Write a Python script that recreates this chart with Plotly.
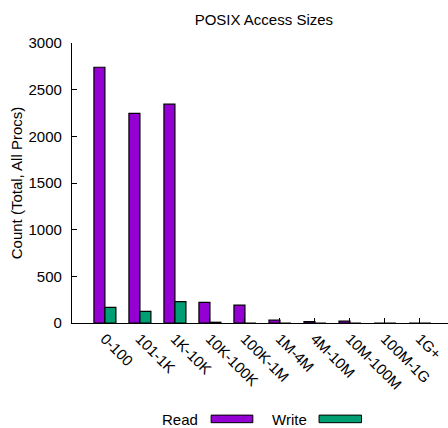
import plotly.graph_objects as go

# Access-size buckets and total counts across all processes
categories = ["0-100", "101-1K", "1K-10K", "10K-100K", "100K-1M",
              "1M-4M", "4M-10M", "10M-100M", "100M-1G", "1G+"]
read_counts = [2740, 2245, 2345, 220, 192, 30, 15, 20, 0, 0]
write_counts = [167, 124, 228, 8, 0, 0, 0, 0, 0, 0]

READ_COLOR = "#9400D3"
WRITE_COLOR = "#009E73"
FONT = "Liberation Sans, Arial, sans-serif"
FS = 15

idx = list(range(len(categories)))
bar_w = 0.314

fig = go.Figure()
fig.add_trace(go.Bar(
    x=[i - bar_w / 2 for i in idx], y=read_counts, width=bar_w, name="Read",
    marker=dict(color=READ_COLOR, line=dict(color="black", width=1.2)),
))
fig.add_trace(go.Bar(
    x=[i + bar_w / 2 for i in idx], y=write_counts, width=bar_w, name="Write",
    marker=dict(color=WRITE_COLOR, line=dict(color="black", width=1.2)),
))

# Legend drawn beneath the plot: label followed by a wide swatch
legend_items = [("Read", READ_COLOR, 0.340, 0.370, 0.481),
                ("Write", WRITE_COLOR, 0.631, 0.657, 0.770)]
for label, color, x_text_end, sw0, sw1 in legend_items:
    fig.add_annotation(xref="paper", yref="paper", x=x_text_end, y=-0.343,
                       text=label, showarrow=False, xanchor="right", yanchor="middle",
                       font=dict(family=FONT, size=FS, color="black"))
    fig.add_shape(type="rect", xref="paper", yref="paper",
                  x0=sw0, x1=sw1, y0=-0.356, y1=-0.329,
                  fillcolor=color, line=dict(color="black", width=1))

fig.update_layout(
    width=448, height=428,
    margin=dict(l=72, r=0, t=43, b=105),
    paper_bgcolor="white", plot_bgcolor="white",
    barmode="overlay", showlegend=False,
    font=dict(family=FONT, size=FS, color="black"),
    title=dict(text="POSIX Access Sizes", x=0.589, xanchor="center",
               y=0.955, yanchor="middle", font=dict(size=FS)),
    xaxis=dict(
        range=[-0.94, 9.8], tickmode="array", tickvals=idx, ticktext=categories,
        tickangle=45, ticks="inside", ticklen=5, tickcolor="black",
        showline=True, linecolor="black", linewidth=1.2, showgrid=False,
        zeroline=False, tickfont=dict(size=FS),
    ),
    yaxis=dict(
        range=[0, 3000], tickvals=[0, 500, 1000, 1500, 2000, 2500, 3000],
        ticks="inside", ticklen=5, tickcolor="black", ticklabelstandoff=6,
        showline=True, linecolor="black", linewidth=1.2, showgrid=False,
        zeroline=False, tickfont=dict(size=FS),
        title=dict(text="Count (Total, All Procs)", font=dict(size=FS), standoff=2),
    ),
)

fig.write_html("out.html")
